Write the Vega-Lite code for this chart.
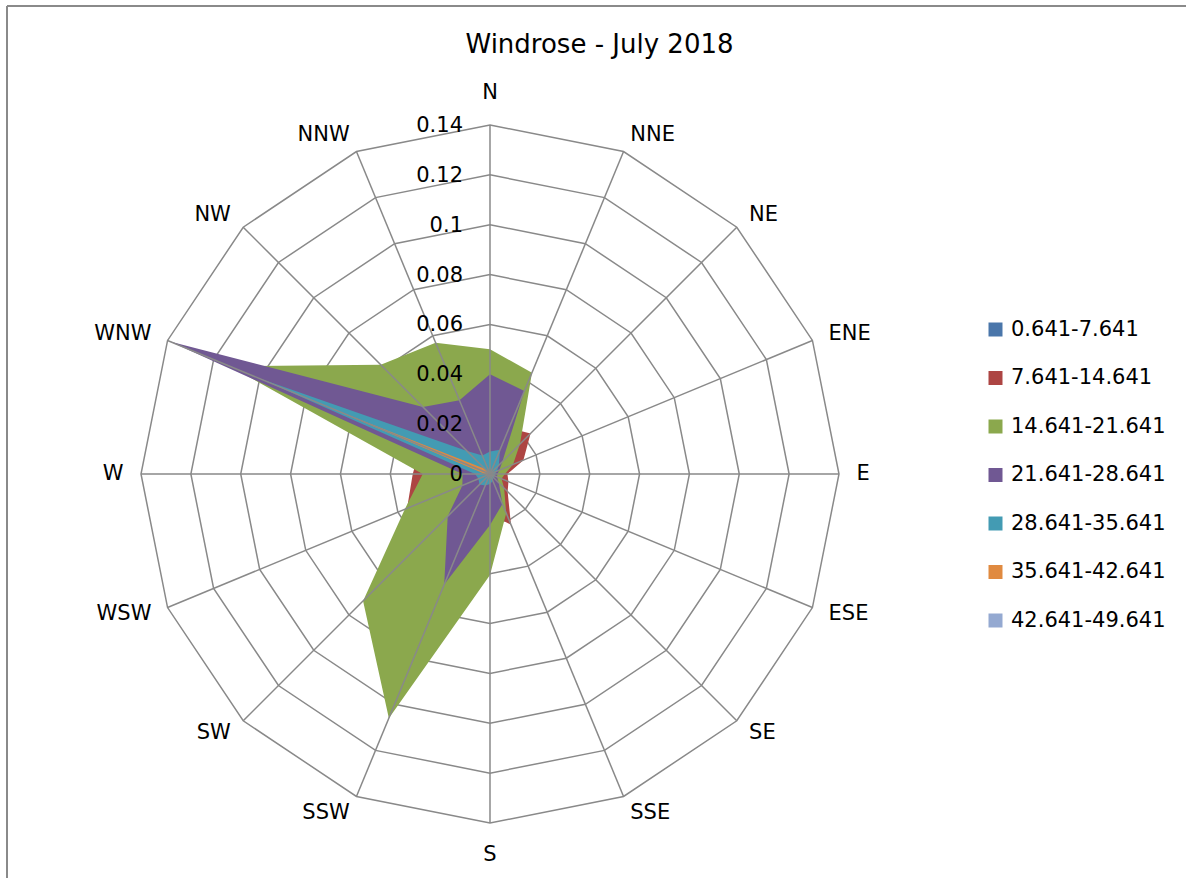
{
  "$schema": "https://vega.github.io/schema/vega-lite/v6.json",
  "width": 1179,
  "height": 872,
  "autosize": {"type": "none"},
  "padding": {"left": 7, "top": 6, "right": 0, "bottom": 0},
  "background": "white",
  "config": {"view": {"stroke": null}, "font": "DejaVu Sans"},
  "title": {"text": "Windrose - July 2018", "fontSize": 26, "font": "DejaVu Sans", "fontWeight": "normal", "color": "black", "anchor": "middle", "frame": "group", "offset": 0, "baseline": "middle", "dy": 66, "dx": 3},
  "datasets": {
    "dirs": [
      {"i": 0, "dir": "N", "lv": [0.02, 0.04, 0.06, 0.08, 0.1, 0.12, 0.14]},
      {"i": 1, "dir": "NNE", "lv": [0.02, 0.04, 0.06, 0.08, 0.1, 0.12, 0.14]},
      {"i": 2, "dir": "NE", "lv": [0.02, 0.04, 0.06, 0.08, 0.1, 0.12, 0.14]},
      {"i": 3, "dir": "ENE", "lv": [0.02, 0.04, 0.06, 0.08, 0.1, 0.12, 0.14]},
      {"i": 4, "dir": "E", "lv": [0.02, 0.04, 0.06, 0.08, 0.1, 0.12, 0.14]},
      {"i": 5, "dir": "ESE", "lv": [0.02, 0.04, 0.06, 0.08, 0.1, 0.12, 0.14]},
      {"i": 6, "dir": "SE", "lv": [0.02, 0.04, 0.06, 0.08, 0.1, 0.12, 0.14]},
      {"i": 7, "dir": "SSE", "lv": [0.02, 0.04, 0.06, 0.08, 0.1, 0.12, 0.14]},
      {"i": 8, "dir": "S", "lv": [0.02, 0.04, 0.06, 0.08, 0.1, 0.12, 0.14]},
      {"i": 9, "dir": "SSW", "lv": [0.02, 0.04, 0.06, 0.08, 0.1, 0.12, 0.14]},
      {"i": 10, "dir": "SW", "lv": [0.02, 0.04, 0.06, 0.08, 0.1, 0.12, 0.14]},
      {"i": 11, "dir": "WSW", "lv": [0.02, 0.04, 0.06, 0.08, 0.1, 0.12, 0.14]},
      {"i": 12, "dir": "W", "lv": [0.02, 0.04, 0.06, 0.08, 0.1, 0.12, 0.14]},
      {"i": 13, "dir": "WNW", "lv": [0.02, 0.04, 0.06, 0.08, 0.1, 0.12, 0.14]},
      {"i": 14, "dir": "NW", "lv": [0.02, 0.04, 0.06, 0.08, 0.1, 0.12, 0.14]},
      {"i": 15, "dir": "NNW", "lv": [0.02, 0.04, 0.06, 0.08, 0.1, 0.12, 0.14]}
    ],
    "levels": [{"lv": 0}, {"lv": 0.02}, {"lv": 0.04}, {"lv": 0.06}, {"lv": 0.08}, {"lv": 0.1}, {"lv": 0.12}, {"lv": 0.14}],
    "frame": [{"edge": "top"}],
    "vals": [
      {"s": "0.641-7.641", "i": 0, "dir": "N", "v": 0.0006},
      {"s": "0.641-7.641", "i": 1, "dir": "NNE", "v": 0.0006},
      {"s": "0.641-7.641", "i": 2, "dir": "NE", "v": 0.0005},
      {"s": "0.641-7.641", "i": 3, "dir": "ENE", "v": 0.0004},
      {"s": "0.641-7.641", "i": 4, "dir": "E", "v": 0.0004},
      {"s": "0.641-7.641", "i": 5, "dir": "ESE", "v": 0.0004},
      {"s": "0.641-7.641", "i": 6, "dir": "SE", "v": 0.0004},
      {"s": "0.641-7.641", "i": 7, "dir": "SSE", "v": 0.0005},
      {"s": "0.641-7.641", "i": 8, "dir": "S", "v": 0.0006},
      {"s": "0.641-7.641", "i": 9, "dir": "SSW", "v": 0.0006},
      {"s": "0.641-7.641", "i": 10, "dir": "SW", "v": 0.0006},
      {"s": "0.641-7.641", "i": 11, "dir": "WSW", "v": 0.0006},
      {"s": "0.641-7.641", "i": 12, "dir": "W", "v": 0.0008},
      {"s": "0.641-7.641", "i": 13, "dir": "WNW", "v": 0.002},
      {"s": "0.641-7.641", "i": 14, "dir": "NW", "v": 0.0008},
      {"s": "0.641-7.641", "i": 15, "dir": "NNW", "v": 0.0006},
      {"s": "7.641-14.641", "i": 0, "dir": "N", "v": 0.018},
      {"s": "7.641-14.641", "i": 1, "dir": "NNE", "v": 0.02},
      {"s": "7.641-14.641", "i": 2, "dir": "NE", "v": 0.023},
      {"s": "7.641-14.641", "i": 3, "dir": "ENE", "v": 0.0145},
      {"s": "7.641-14.641", "i": 4, "dir": "E", "v": 0.007},
      {"s": "7.641-14.641", "i": 5, "dir": "ESE", "v": 0.008},
      {"s": "7.641-14.641", "i": 6, "dir": "SE", "v": 0.01},
      {"s": "7.641-14.641", "i": 7, "dir": "SSE", "v": 0.022},
      {"s": "7.641-14.641", "i": 8, "dir": "S", "v": 0.016},
      {"s": "7.641-14.641", "i": 9, "dir": "SSW", "v": 0.02},
      {"s": "7.641-14.641", "i": 10, "dir": "SW", "v": 0.022},
      {"s": "7.641-14.641", "i": 11, "dir": "WSW", "v": 0.036},
      {"s": "7.641-14.641", "i": 12, "dir": "W", "v": 0.031},
      {"s": "7.641-14.641", "i": 13, "dir": "WNW", "v": 0.03},
      {"s": "7.641-14.641", "i": 14, "dir": "NW", "v": 0.02},
      {"s": "7.641-14.641", "i": 15, "dir": "NNW", "v": 0.016},
      {"s": "14.641-21.641", "i": 0, "dir": "N", "v": 0.05},
      {"s": "14.641-21.641", "i": 1, "dir": "NNE", "v": 0.044},
      {"s": "14.641-21.641", "i": 2, "dir": "NE", "v": 0.017},
      {"s": "14.641-21.641", "i": 3, "dir": "ENE", "v": 0.01},
      {"s": "14.641-21.641", "i": 4, "dir": "E", "v": 0.006},
      {"s": "14.641-21.641", "i": 5, "dir": "ESE", "v": 0.005},
      {"s": "14.641-21.641", "i": 6, "dir": "SE", "v": 0.008},
      {"s": "14.641-21.641", "i": 7, "dir": "SSE", "v": 0.017},
      {"s": "14.641-21.641", "i": 8, "dir": "S", "v": 0.0405},
      {"s": "14.641-21.641", "i": 9, "dir": "SSW", "v": 0.106},
      {"s": "14.641-21.641", "i": 10, "dir": "SW", "v": 0.072},
      {"s": "14.641-21.641", "i": 11, "dir": "WSW", "v": 0.037},
      {"s": "14.641-21.641", "i": 12, "dir": "W", "v": 0.027},
      {"s": "14.641-21.641", "i": 13, "dir": "WNW", "v": 0.113},
      {"s": "14.641-21.641", "i": 14, "dir": "NW", "v": 0.062},
      {"s": "14.641-21.641", "i": 15, "dir": "NNW", "v": 0.057},
      {"s": "21.641-28.641", "i": 0, "dir": "N", "v": 0.04},
      {"s": "21.641-28.641", "i": 1, "dir": "NNE", "v": 0.036},
      {"s": "21.641-28.641", "i": 2, "dir": "NE", "v": 0.007},
      {"s": "21.641-28.641", "i": 3, "dir": "ENE", "v": 0.004},
      {"s": "21.641-28.641", "i": 4, "dir": "E", "v": 0.003},
      {"s": "21.641-28.641", "i": 5, "dir": "ESE", "v": 0.003},
      {"s": "21.641-28.641", "i": 6, "dir": "SE", "v": 0.005},
      {"s": "21.641-28.641", "i": 7, "dir": "SSE", "v": 0.013},
      {"s": "21.641-28.641", "i": 8, "dir": "S", "v": 0.0205},
      {"s": "21.641-28.641", "i": 9, "dir": "SSW", "v": 0.048},
      {"s": "21.641-28.641", "i": 10, "dir": "SW", "v": 0.024},
      {"s": "21.641-28.641", "i": 11, "dir": "WSW", "v": 0.012},
      {"s": "21.641-28.641", "i": 12, "dir": "W", "v": 0.011},
      {"s": "21.641-28.641", "i": 13, "dir": "WNW", "v": 0.139},
      {"s": "21.641-28.641", "i": 14, "dir": "NW", "v": 0.038},
      {"s": "21.641-28.641", "i": 15, "dir": "NNW", "v": 0.032},
      {"s": "28.641-35.641", "i": 0, "dir": "N", "v": 0.009},
      {"s": "28.641-35.641", "i": 1, "dir": "NNE", "v": 0.0105},
      {"s": "28.641-35.641", "i": 2, "dir": "NE", "v": 0.005},
      {"s": "28.641-35.641", "i": 3, "dir": "ENE", "v": 0.003},
      {"s": "28.641-35.641", "i": 4, "dir": "E", "v": 0.002},
      {"s": "28.641-35.641", "i": 5, "dir": "ESE", "v": 0.002},
      {"s": "28.641-35.641", "i": 6, "dir": "SE", "v": 0.002},
      {"s": "28.641-35.641", "i": 7, "dir": "SSE", "v": 0.003},
      {"s": "28.641-35.641", "i": 8, "dir": "S", "v": 0.004},
      {"s": "28.641-35.641", "i": 9, "dir": "SSW", "v": 0.005},
      {"s": "28.641-35.641", "i": 10, "dir": "SW", "v": 0.006},
      {"s": "28.641-35.641", "i": 11, "dir": "WSW", "v": 0.005},
      {"s": "28.641-35.641", "i": 12, "dir": "W", "v": 0.006},
      {"s": "28.641-35.641", "i": 13, "dir": "WNW", "v": 0.1},
      {"s": "28.641-35.641", "i": 14, "dir": "NW", "v": 0.013},
      {"s": "28.641-35.641", "i": 15, "dir": "NNW", "v": 0.008},
      {"s": "35.641-42.641", "i": 0, "dir": "N", "v": 0.001},
      {"s": "35.641-42.641", "i": 1, "dir": "NNE", "v": 0.001},
      {"s": "35.641-42.641", "i": 2, "dir": "NE", "v": 0.0008},
      {"s": "35.641-42.641", "i": 3, "dir": "ENE", "v": 0.0005},
      {"s": "35.641-42.641", "i": 4, "dir": "E", "v": 0.0005},
      {"s": "35.641-42.641", "i": 5, "dir": "ESE", "v": 0.0005},
      {"s": "35.641-42.641", "i": 6, "dir": "SE", "v": 0.0005},
      {"s": "35.641-42.641", "i": 7, "dir": "SSE", "v": 0.0005},
      {"s": "35.641-42.641", "i": 8, "dir": "S", "v": 0.0008},
      {"s": "35.641-42.641", "i": 9, "dir": "SSW", "v": 0.001},
      {"s": "35.641-42.641", "i": 10, "dir": "SW", "v": 0.001},
      {"s": "35.641-42.641", "i": 11, "dir": "WSW", "v": 0.001},
      {"s": "35.641-42.641", "i": 12, "dir": "W", "v": 0.002},
      {"s": "35.641-42.641", "i": 13, "dir": "WNW", "v": 0.068},
      {"s": "35.641-42.641", "i": 14, "dir": "NW", "v": 0.003},
      {"s": "35.641-42.641", "i": 15, "dir": "NNW", "v": 0.001},
      {"s": "42.641-49.641", "i": 0, "dir": "N", "v": 0.0003},
      {"s": "42.641-49.641", "i": 1, "dir": "NNE", "v": 0.0003},
      {"s": "42.641-49.641", "i": 2, "dir": "NE", "v": 0.0003},
      {"s": "42.641-49.641", "i": 3, "dir": "ENE", "v": 0.0002},
      {"s": "42.641-49.641", "i": 4, "dir": "E", "v": 0.0002},
      {"s": "42.641-49.641", "i": 5, "dir": "ESE", "v": 0.0002},
      {"s": "42.641-49.641", "i": 6, "dir": "SE", "v": 0.0002},
      {"s": "42.641-49.641", "i": 7, "dir": "SSE", "v": 0.0002},
      {"s": "42.641-49.641", "i": 8, "dir": "S", "v": 0.0003},
      {"s": "42.641-49.641", "i": 9, "dir": "SSW", "v": 0.0003},
      {"s": "42.641-49.641", "i": 10, "dir": "SW", "v": 0.0003},
      {"s": "42.641-49.641", "i": 11, "dir": "WSW", "v": 0.0003},
      {"s": "42.641-49.641", "i": 12, "dir": "W", "v": 0.0005},
      {"s": "42.641-49.641", "i": 13, "dir": "WNW", "v": 0.004},
      {"s": "42.641-49.641", "i": 14, "dir": "NW", "v": 0.0005},
      {"s": "42.641-49.641", "i": 15, "dir": "NNW", "v": 0.0003}
    ]
  },
  "layer": [
    {
      "data": {"name": "frame"},
      "mark": {"type": "rule", "stroke": "#8a8a8a", "strokeWidth": 2},
      "encoding": {
        "y": {"datum": 0.187736, "type": "quantitative", "scale": {"domain": [-0.162063, 0.187736], "nice": false, "zero": false}, "axis": null}
      }
    },
    {
      "data": {"name": "frame"},
      "mark": {"type": "rule", "stroke": "#8a8a8a", "strokeWidth": 2},
      "encoding": {
        "x": {"datum": -0.193754, "type": "quantitative", "scale": {"domain": [-0.193754, 0.2792], "nice": false, "zero": false}, "axis": null}
      }
    },
    {
      "data": {"name": "dirs"},
      "transform": [
        {"flatten": ["lv"]},
        {"calculate": "datum.lv * sin(datum.i * PI / 8)", "as": "x"},
        {"calculate": "datum.lv * cos(datum.i * PI / 8)", "as": "y"}
      ],
      "mark": {"type": "line", "interpolate": "linear-closed", "stroke": "#898989", "strokeWidth": 1.5},
      "encoding": {
        "x": {"field": "x", "type": "quantitative", "scale": {"domain": [-0.193754, 0.2792], "nice": false, "zero": false}, "axis": null},
        "y": {"field": "y", "type": "quantitative", "scale": {"domain": [-0.162063, 0.187736], "nice": false, "zero": false}, "axis": null},
        "detail": {"field": "lv", "type": "nominal"},
        "order": {"field": "i", "type": "quantitative"}
      }
    },
    {
      "data": {"name": "vals"},
      "transform": [
        {"calculate": "datum.v * sin(datum.i * PI / 8)", "as": "x"},
        {"calculate": "datum.v * cos(datum.i * PI / 8)", "as": "y"}
      ],
      "encoding": {
        "x": {"field": "x", "type": "quantitative", "scale": {"domain": [-0.193754, 0.2792], "nice": false, "zero": false}, "axis": null},
        "y": {"field": "y", "type": "quantitative", "scale": {"domain": [-0.162063, 0.187736], "nice": false, "zero": false}, "axis": null},
        "order": {"field": "i", "type": "quantitative"},
        "color": {
          "field": "s", "type": "nominal",
          "scale": {
            "domain": ["0.641-7.641", "7.641-14.641", "14.641-21.641", "21.641-28.641", "28.641-35.641", "35.641-42.641", "42.641-49.641"],
            "range": ["#4A76AA", "#AD4543", "#8BA84D", "#705893", "#439BB3", "#E08A40", "#94A9D1"]
          },
          "legend": {
            "orient": "none", "legendX": 978, "legendY": 313, "title": null,
            "symbolType": "square", "symbolSize": 196, "symbolStrokeWidth": 0,
            "labelFontSize": 21, "labelFont": "DejaVu Sans", "labelColor": "black",
            "rowPadding": 26.5, "labelOffset": 5, "padding": 0, "labelLimit": 300
          }
        }
      },
      "layer": [
        {"transform": [{"filter": "datum.s == '0.641-7.641'"}], "mark": {"type": "line", "interpolate": "linear-closed", "filled": true, "strokeWidth": 0}},
        {"transform": [{"filter": "datum.s == '7.641-14.641'"}], "mark": {"type": "line", "interpolate": "linear-closed", "filled": true, "strokeWidth": 0}},
        {"transform": [{"filter": "datum.s == '14.641-21.641'"}], "mark": {"type": "line", "interpolate": "linear-closed", "filled": true, "strokeWidth": 0}},
        {"transform": [{"filter": "datum.s == '21.641-28.641'"}], "mark": {"type": "line", "interpolate": "linear-closed", "filled": true, "strokeWidth": 0}},
        {"transform": [{"filter": "datum.s == '28.641-35.641'"}], "mark": {"type": "line", "interpolate": "linear-closed", "filled": true, "strokeWidth": 0}},
        {"transform": [{"filter": "datum.s == '35.641-42.641'"}], "mark": {"type": "line", "interpolate": "linear-closed", "filled": true, "strokeWidth": 0}},
        {"transform": [{"filter": "datum.s == '42.641-49.641'"}], "mark": {"type": "line", "interpolate": "linear-closed", "filled": true, "strokeWidth": 0}}
      ]
    },
    {
      "data": {"name": "dirs"},
      "transform": [
        {"calculate": "0.14 * sin(datum.i * PI / 8)", "as": "ex"},
        {"calculate": "0.14 * cos(datum.i * PI / 8)", "as": "ey"}
      ],
      "mark": {"type": "rule", "stroke": "#898989", "strokeWidth": 1.5},
      "encoding": {
        "x": {"field": "ex", "type": "quantitative", "scale": {"domain": [-0.193754, 0.2792], "nice": false, "zero": false}, "axis": null},
        "y": {"field": "ey", "type": "quantitative", "scale": {"domain": [-0.162063, 0.187736], "nice": false, "zero": false}, "axis": null},
        "x2": {"datum": 0},
        "y2": {"datum": 0}
      }
    },
    {
      "data": {"name": "dirs"},
      "transform": [
        {"calculate": "(datum.i == 0 || datum.i == 8) ? 0.153 : 0.147", "as": "r"},
        {"calculate": "datum.r * sin(datum.i * PI / 8)", "as": "lx"},
        {"calculate": "datum.r * cos(datum.i * PI / 8)", "as": "ly"}
      ],
      "mark": {"type": "text", "fontSize": 21, "font": "DejaVu Sans", "color": "black", "baseline": "middle",
        "align": {"expr": "(datum.i == 0 || datum.i == 8) ? 'center' : (datum.i < 8 ? 'left' : 'right')"}},
      "encoding": {
        "x": {"field": "lx", "type": "quantitative", "scale": {"domain": [-0.193754, 0.2792], "nice": false, "zero": false}, "axis": null},
        "y": {"field": "ly", "type": "quantitative", "scale": {"domain": [-0.162063, 0.187736], "nice": false, "zero": false}, "axis": null},
        "text": {"field": "dir", "type": "nominal"}
      }
    },
    {
      "data": {"name": "levels"},
      "mark": {"type": "text", "fontSize": 21, "font": "DejaVu Sans", "color": "black", "baseline": "middle", "align": "right", "dx": -27, "dy": 1},
      "encoding": {
        "x": {"datum": 0, "type": "quantitative"},
        "y": {"field": "lv", "type": "quantitative", "scale": {"domain": [-0.162063, 0.187736], "nice": false, "zero": false}, "axis": null},
        "text": {"field": "lv", "type": "quantitative", "format": ".2~f"}
      }
    }
  ]
}
